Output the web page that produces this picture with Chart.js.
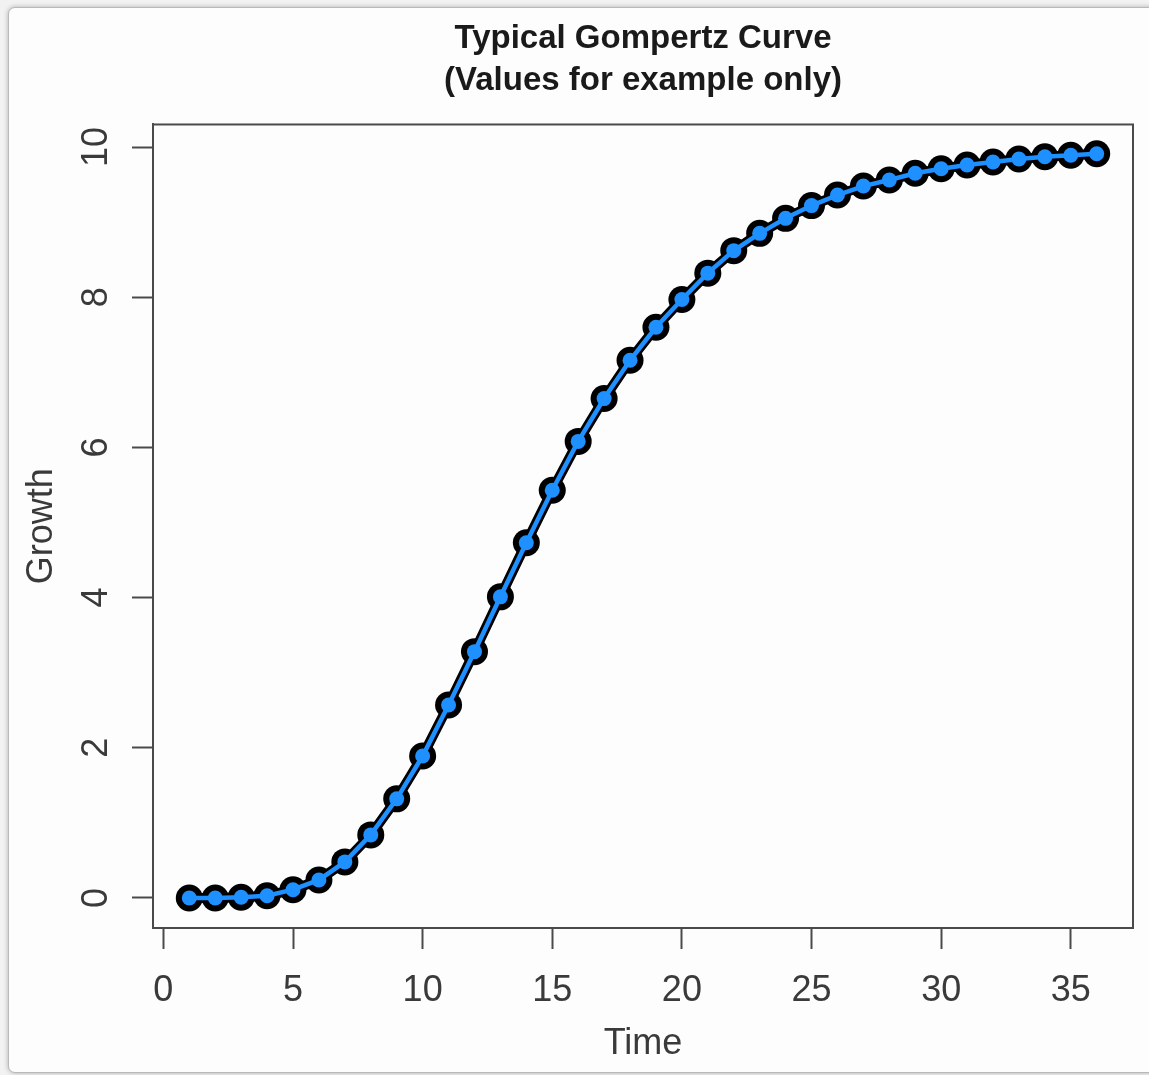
<!DOCTYPE html>
<html>
<head>
<meta charset="utf-8">
<title>Typical Gompertz Curve</title>
<script src="https://cdn.jsdelivr.net/npm/chart.js@4/dist/chart.umd.min.js"></script>
<style>
  html,body{margin:0;padding:0;background:#f2f2f2;width:1149px;height:1075px;overflow:hidden;}
  .frame{position:absolute;left:8px;top:7px;width:1150px;height:1064px;background:#fdfdfd;
    border:1px solid #b9b9b9;border-radius:7px 0 0 7px;box-shadow:0 0 5px rgba(0,0,0,.28);}
  #wrap{position:absolute;left:0;top:0;width:1149px;height:1075px;filter:blur(0.7px);}
</style>
</head>
<body>
<div class="frame"></div>
<div id="wrap"><canvas id="gompertz"></canvas></div>
<script>
/* Gompertz curve, R base-graphics look: box, outward ticks, rotated y labels. */
const time = [1,2,3,4,5,6,7,8,9,10,11,12,13,14,15,16,17,18,19,20,21,22,23,24,25,26,27,28,29,30,31,32,33,34,35,36];
const growth = [0.00,0.00,0.01,0.03,0.11,0.24,0.48,0.84,1.32,1.89,2.57,3.28,4.01,4.73,5.43,6.08,6.65,7.16,7.60,7.97,
                8.32,8.62,8.85,9.05,9.22,9.36,9.48,9.56,9.65,9.71,9.76,9.80,9.84,9.87,9.89,9.91];
const xTicks = [0,5,10,15,20,25,30,35];
const yTicks = [0,2,4,6,8,10];
const titleLines = ["Typical Gompertz Curve","(Values for example only)"];

const FONT = "'Liberation Sans', Arial, Helvetica, sans-serif";
const AXIS = "#4a4a4a";
const pts = time.map((t,i)=>({x:t, y:growth[i]}));

// plot box round the whole chart area, like R's box()
const boxPlugin = {
  id:"rbox",
  beforeDatasetsDraw(chart){
    const {ctx, chartArea:a} = chart;
    ctx.save();
    ctx.strokeStyle = AXIS; ctx.lineWidth = 2;
    ctx.strokeRect(a.left, a.top, a.right-a.left, a.bottom-a.top);
    ctx.restore();
  }
};

new Chart(document.getElementById("gompertz"), {
  type:"line",
  data:{ datasets:[
    { // blue core, drawn on top
      data:pts, order:0, borderColor:"#1E90FF", borderWidth:4.5,
      pointRadius:7.5, pointBackgroundColor:"#1E90FF", pointBorderWidth:0, tension:0
    },
    { // black outline underneath
      data:pts, order:1, borderColor:"#000", borderWidth:10,
      pointRadius:13.5, pointBackgroundColor:"#000", pointBorderWidth:0, tension:0
    }
  ]},
  options:{
    responsive:true, maintainAspectRatio:false, animation:false,
    layout:{padding:{left:0, right:16, top:0, bottom:0}},
    plugins:{
      legend:{display:false}, tooltip:{enabled:false},
      title:{display:true, fullSize:false, text:titleLines, color:"#1a1a1a",
        font:{family:FONT, size:33, weight:"bold", lineHeight:1.28},
        padding:{top:18, bottom:22}}
    },
    scales:{
      x:{type:"linear", min:-0.4, max:37.4,
        afterBuildTicks:s=>{ s.ticks = xTicks.map(v=>({value:v})); },
        afterFit:s=>{ s.height = 147; },
        grid:{drawOnChartArea:false, drawTicks:true, tickLength:21, tickWidth:2, tickColor:AXIS},
        border:{display:true, color:AXIS, width:2},
        ticks:{color:"#3a3a3a", padding:20, maxRotation:0, autoSkip:false,
          font:{family:FONT, size:36, lineHeight:1.2}},
        title:{display:true, text:"Time", color:"#3a3a3a",
          font:{family:FONT, size:36, lineHeight:1.2}, padding:{top:0, bottom:9}}
      },
      y:{type:"linear", min:-0.4, max:10.3,
        afterBuildTicks:s=>{ s.ticks = yTicks.map(v=>({value:v})); },
        afterFit:s=>{ s.width = 153; },
        grid:{drawOnChartArea:false, drawTicks:true, tickLength:21, tickWidth:2, tickColor:AXIS},
        border:{display:true, color:AXIS, width:2},
        ticks:{color:"#3a3a3a", padding:15, minRotation:90, maxRotation:90, crossAlign:"center",
          autoSkip:false, font:{family:FONT, size:36, lineHeight:1.2}},
        title:{display:true, text:"Growth", color:"#3a3a3a",
          font:{family:FONT, size:36, lineHeight:1.2}, padding:{top:20, bottom:0}}
      }
    }
  },
  plugins:[boxPlugin]
});
</script>
</body>
</html>
